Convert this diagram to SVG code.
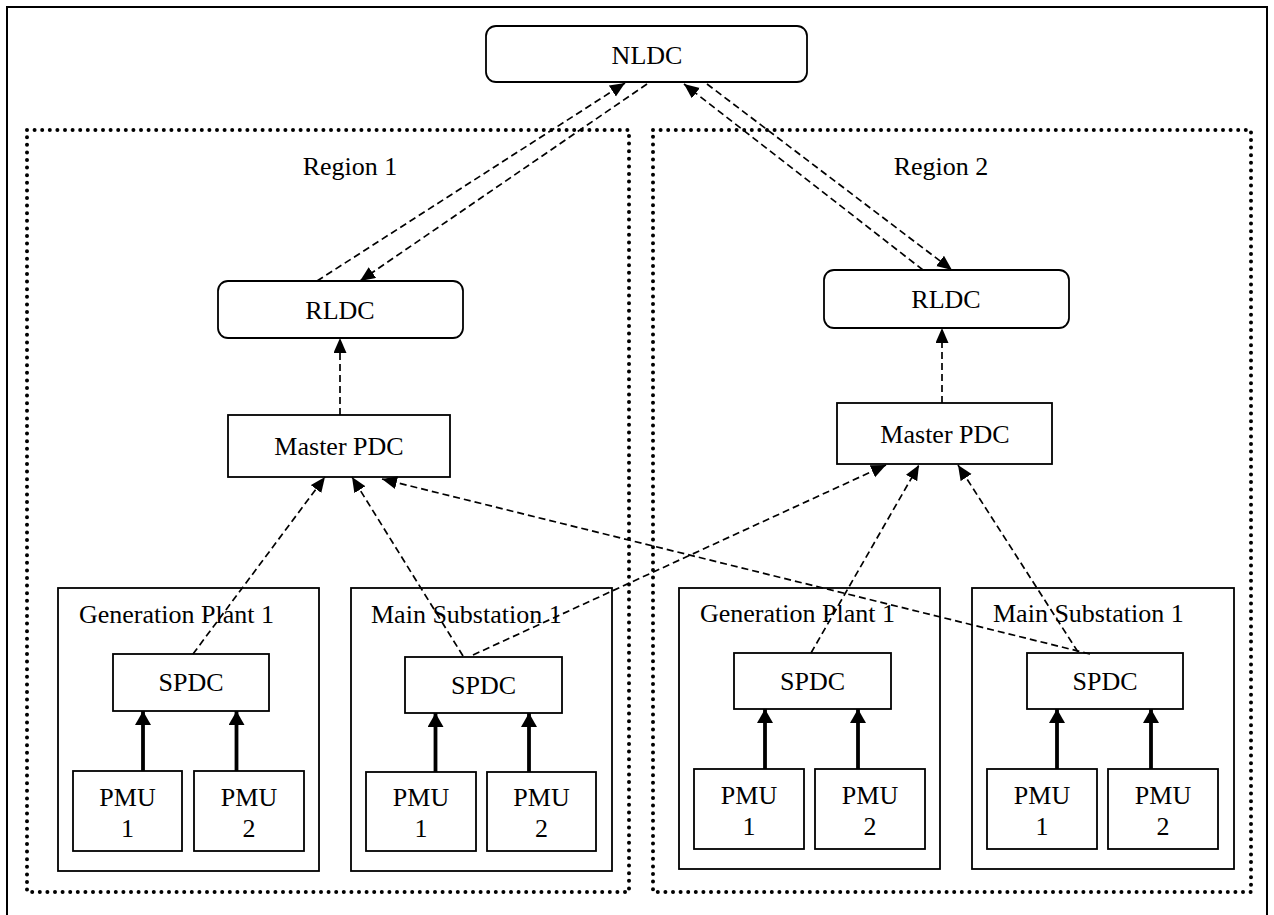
<svg xmlns="http://www.w3.org/2000/svg" width="1274" height="915" viewBox="0 0 1274 915" font-family="'Liberation Serif', 'DejaVu Serif', serif">
<style>
text{font-family:'Liberation Serif','Times New Roman',serif;font-size:26px;fill:#000;text-anchor:middle}
.box{fill:#fff;stroke:#000;stroke-width:1.8}
.rbox{fill:#fff;stroke:#000;stroke-width:1.8}
.region{fill:none;stroke:#000;stroke-width:4;stroke-linecap:round;stroke-dasharray:0 7.6}
.dash{fill:none;stroke:#000;stroke-width:1.7;stroke-dasharray:7 4;marker-end:url(#ah)}
.thick{fill:none;stroke:#000;stroke-width:3.8;marker-end:url(#th)}
.lt{text-anchor:start}
</style>
<defs>
<marker id="ah" markerUnits="userSpaceOnUse" markerWidth="16" markerHeight="14" refX="15" refY="6.5" orient="auto" viewBox="0 0 16 14">
<path d="M0,0 L15,6.5 L0,13 z" fill="#000"/>
</marker>
<marker id="th" markerUnits="userSpaceOnUse" markerWidth="15" markerHeight="17" refX="14" refY="8" orient="auto" viewBox="0 0 15 17">
<path d="M0,0 L14,8 L0,16 z" fill="#000"/>
</marker>
</defs>
<rect x="0" y="0" width="1274" height="915" fill="#fff"/>
<rect id="frame" x="7" y="7" width="1260" height="920" fill="none" stroke="#000" stroke-width="2"/>

<g id="region1"><rect class="region" x="27" y="130" width="602" height="762"/><text x="350" y="175">Region 1</text></g>
<g id="region2"><rect class="region" x="653" y="130" width="598" height="762"/><text x="941" y="175">Region 2</text></g>

<g id="nldc"><rect class="rbox" x="486" y="26" width="321" height="56" rx="10"/><text x="647" y="64">NLDC</text></g>
<g id="rldc1"><rect class="rbox" x="218" y="281" width="245" height="57" rx="10"/><text x="340" y="319">RLDC</text></g>
<g id="rldc2"><rect class="rbox" x="824" y="270" width="245" height="58" rx="10"/><text x="946" y="308">RLDC</text></g>
<g id="mpdc1"><rect class="box" x="228" y="415" width="222" height="62"/><text x="339" y="455">Master PDC</text></g>
<g id="mpdc2"><rect class="box" x="837" y="403" width="215" height="61"/><text x="945" y="443">Master PDC</text></g>

<g id="r1-gen"><rect class="box" x="58" y="588" width="261" height="283"/><text class="lt" x="79" y="623">Generation Plant 1</text></g>
<g id="r1-sub"><rect class="box" x="351" y="588" width="261" height="283"/><text class="lt" x="371" y="623">Main Substation 1</text></g>
<g id="r2-gen"><rect class="box" x="679" y="588" width="261" height="281"/><text class="lt" x="700" y="622">Generation Plant 1</text></g>
<g id="r2-sub"><rect class="box" x="972" y="588" width="262" height="281"/><text class="lt" x="993" y="622">Main Substation 1</text></g>

<g id="r1-gen-spdc"><rect class="box" x="113" y="654" width="156" height="57"/><text x="191" y="691">SPDC</text></g>
<g id="r1-sub-spdc"><rect class="box" x="405" y="657" width="157" height="56"/><text x="483.5" y="694">SPDC</text></g>
<g id="r2-gen-spdc"><rect class="box" x="734" y="653" width="157" height="56"/><text x="812.5" y="690">SPDC</text></g>
<g id="r2-sub-spdc"><rect class="box" x="1027" y="653" width="156" height="56"/><text x="1105" y="690">SPDC</text></g>

<g id="r1-gen-pmu1"><rect class="box" x="73" y="771" width="109" height="80"/><text x="127.5" y="806">PMU</text><text x="127.5" y="837">1</text></g>
<g id="r1-gen-pmu2"><rect class="box" x="194" y="771" width="110" height="80"/><text x="249" y="806">PMU</text><text x="249" y="837">2</text></g>
<g id="r1-sub-pmu1"><rect class="box" x="366" y="772" width="110" height="79"/><text x="421" y="806">PMU</text><text x="421" y="837">1</text></g>
<g id="r1-sub-pmu2"><rect class="box" x="487" y="772" width="109" height="79"/><text x="541.5" y="806">PMU</text><text x="541.5" y="837">2</text></g>
<g id="r2-gen-pmu1"><rect class="box" x="694" y="769" width="110" height="80"/><text x="749" y="804">PMU</text><text x="749" y="835">1</text></g>
<g id="r2-gen-pmu2"><rect class="box" x="815" y="769" width="110" height="80"/><text x="870" y="804">PMU</text><text x="870" y="835">2</text></g>
<g id="r2-sub-pmu1"><rect class="box" x="987" y="769" width="110" height="80"/><text x="1042" y="804">PMU</text><text x="1042" y="835">1</text></g>
<g id="r2-sub-pmu2"><rect class="box" x="1108" y="769" width="110" height="80"/><text x="1163" y="804">PMU</text><text x="1163" y="835">2</text></g>

<g id="connectors">
<path class="dash" d="M317,281 L625,83"/>
<path class="dash" d="M647,84 L360,281"/>
<path class="dash" d="M923,270 L684,84"/>
<path class="dash" d="M707,84 L952,270"/>
<path class="dash" d="M340,415 L340,338"/>
<path class="dash" d="M942,403 L942,328"/>
<path class="dash" d="M193,654 L325,477"/>
<path class="dash" d="M463,656 L352,477"/>
<path class="dash" d="M1090,654 L382,479"/>
<path class="dash" d="M473,655 L886,465"/>
<path class="dash" d="M811,653 L919,465"/>
<path class="dash" d="M1078,652 L958,465"/>
<path class="thick" d="M143,771 L143,711"/>
<path class="thick" d="M236.5,771 L236.5,711"/>
<path class="thick" d="M435.5,772 L435.5,713"/>
<path class="thick" d="M529,772 L529,713"/>
<path class="thick" d="M765,769 L765,709"/>
<path class="thick" d="M858,769 L858,709"/>
<path class="thick" d="M1057,769 L1057,709"/>
<path class="thick" d="M1151,769 L1151,709"/>
</g>
</svg>
